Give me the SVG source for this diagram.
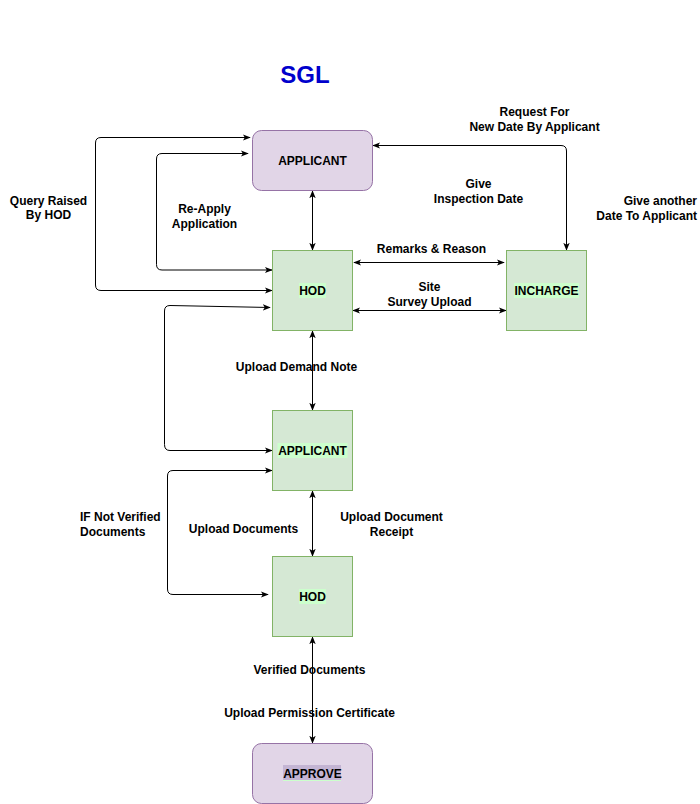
<svg xmlns="http://www.w3.org/2000/svg" width="700" height="804" viewBox="0 0 700 804">
<defs>
<style>
.t{font-family:"Liberation Sans",Arial,sans-serif;font-size:12px;font-weight:bold;fill:#000;text-anchor:middle}
.l{text-anchor:start}
.r{text-anchor:end}
.p{fill:#e1d5e7;stroke:#9673a6;stroke-width:1}
.g{fill:#d5e8d4;stroke:#82b366;stroke-width:1}
.hl{fill:#ccffcc}
.c{fill:none;stroke:#000;stroke-width:1;marker-start:url(#a);marker-end:url(#a)}
</style>
<marker id="a" viewBox="0 0 10 10" refX="9" refY="5" markerWidth="8" markerHeight="8" markerUnits="userSpaceOnUse" orient="auto-start-reverse">
<path d="M0,1 L10,5 L0,9 L2.5,5 Z" fill="#000"/>
</marker>
</defs>
<rect width="700" height="804" fill="#fff"/>
<text x="305" y="83" style="font-family:'Liberation Sans',Arial,sans-serif;font-size:24px;font-weight:bold;fill:#0000cc;text-anchor:middle">SGL</text>

<g id="connectors">
<path class="c" d="M312.5,191 L312.5,250"/>
<path class="c" d="M250,137.5 L101,137.5 Q95.5,137.5 95.5,143 L95.5,285 Q95.5,290.5 101,290.5 L272,290.5"/>
<path class="c" d="M248,153.5 L162,153.5 Q156.5,153.5 156.5,159 L156.5,264.5 Q156.5,270 162,270 L272,270"/>
<path class="c" d="M354,262.5 L504,262.5"/>
<path class="c" d="M353,310.5 L506,310.5"/>
<path class="c" d="M373,145.5 L561,145.5 Q566.5,145.5 566.5,151 L566.5,250"/>
<path class="c" d="M312.5,331 L312.5,410"/>
<path class="c" d="M270,307.5 L170,305.5 Q164.5,305.5 164.5,311 L164.5,444.5 Q164.5,450.5 170,450.5 L272,450.5"/>
<path class="c" d="M272,470.5 L173,470.5 Q167.5,470.5 167.5,476 L167.5,589 Q167.5,594.5 173,594.5 L268,594.5"/>
<path class="c" d="M312.5,491 L312.5,556"/>
<path class="c" d="M312.5,637 L312.5,743"/>
</g>

<g id="node-applicant-top">
<rect class="p" x="252.5" y="130.5" width="120" height="60" rx="9"/>
<text class="t" x="312.5" y="164.5">APPLICANT</text>
</g>
<g id="node-hod-1">
<rect class="g" x="272.5" y="250.5" width="80" height="80"/>
<rect class="hl" x="299" y="283" width="27" height="15"/>
<text class="t" x="312.5" y="294.5">HOD</text>
</g>
<g id="node-incharge">
<rect class="g" x="506.5" y="250.5" width="80" height="80"/>
<rect class="hl" x="514" y="283" width="65" height="15"/>
<text class="t" x="546.5" y="294.5">INCHARGE</text>
</g>
<g id="node-applicant-2">
<rect class="g" x="272.5" y="410.5" width="80" height="80"/>
<rect class="hl" x="277.5" y="443" width="70" height="15"/>
<text class="t" x="312.5" y="454.5">APPLICANT</text>
</g>
<g id="node-hod-2">
<rect class="g" x="272.5" y="556.5" width="80" height="80"/>
<rect class="hl" x="299" y="589" width="27" height="15"/>
<text class="t" x="312.5" y="600.5">HOD</text>
</g>
<g id="node-approve">
<rect class="p" x="252.5" y="743.5" width="120" height="60" rx="9"/>
<rect x="283" y="765" width="58" height="15" fill="#c3b4d3"/>
<line x1="283" y1="780.5" x2="341" y2="780.5" stroke="#ccffcc" stroke-width="1"/>
<text class="t" x="312.5" y="777.5">APPROVE</text>
</g>

<g id="labels">
<text class="t" x="534.5" y="116">Request For</text>
<text class="t" x="534.5" y="131">New Date By Applicant</text>
<text class="t" x="478.5" y="188">Give</text>
<text class="t" x="478.5" y="203">Inspection Date</text>
<text class="t r" x="697" y="205">Give another</text>
<text class="t r" x="697" y="220">Date To Applicant</text>
<text class="t" x="48.5" y="205">Query Raised</text>
<text class="t" x="48.5" y="219">By HOD</text>
<text class="t" x="204.5" y="213">Re-Apply</text>
<text class="t" x="204.5" y="228">Application</text>
<text class="t" x="431.5" y="253">Remarks &amp; Reason</text>
<text class="t" x="429.5" y="291">Site</text>
<text class="t" x="429.5" y="306">Survey Upload</text>
<text class="t" x="296.5" y="371">Upload Demand Note</text>
<text class="t l" x="80" y="521">IF Not Verified</text>
<text class="t l" x="80" y="536">Documents</text>
<text class="t" x="243.5" y="533">Upload Documents</text>
<text class="t" x="391.5" y="521">Upload Document</text>
<text class="t" x="391.5" y="536">Receipt</text>
<text class="t" x="309.5" y="674">Verified Documents</text>
<text class="t" x="309.5" y="717">Upload Permission Certificate</text>
</g>
</svg>
